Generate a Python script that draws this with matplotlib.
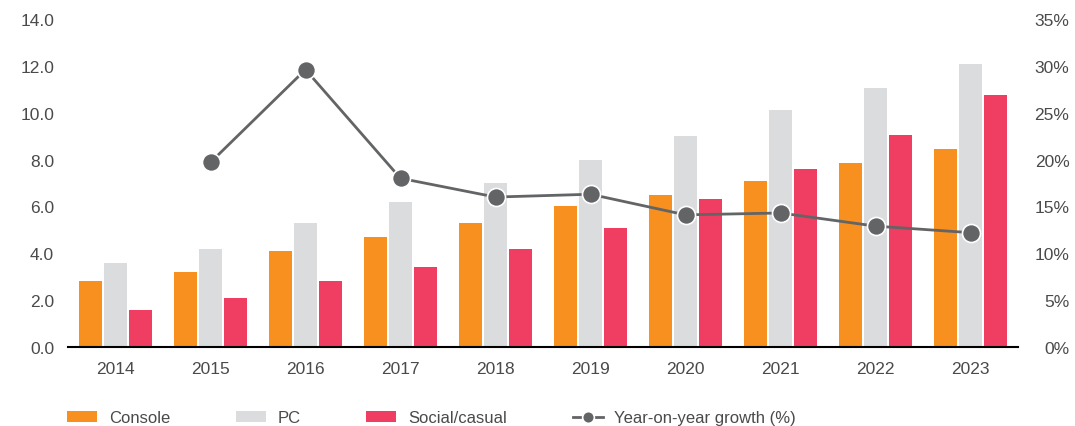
import matplotlib.pyplot as plt
import numpy as np
from matplotlib.ticker import FuncFormatter, MultipleLocator

plt.rcParams['font.family'] = ['Liberation Sans', 'DejaVu Sans']

years = ['2014', '2015', '2016', '2017', '2018', '2019', '2020', '2021', '2022', '2023']
console = [2.8, 3.2, 4.1, 4.7, 5.3, 6.0, 6.5, 7.1, 7.85, 8.45]
pc = [3.6, 4.2, 5.3, 6.2, 7.0, 8.0, 9.0, 10.1, 11.05, 12.1]
social = [1.6, 2.1, 2.8, 3.4, 4.2, 5.1, 6.3, 7.6, 9.05, 10.75]
growth_years = years[1:]
growth = [19.7, 29.6, 18.0, 16.0, 16.3, 14.1, 14.3, 12.9, 12.2]

c_console = '#F7901E'
c_pc = '#DBDCDD'
c_social = '#F03E63'
c_line = '#636466'
c_text = '#4A4A4A'

fig = plt.figure(figsize=(10.75, 4.27), dpi=100)
ax = fig.add_axes([68 / 1075, 79 / 427, 950 / 1075, 328 / 427])

x = np.arange(len(years))
w = 0.242
step = 0.263
ax.bar(x - step, console, w, color=c_console, label='Console', zorder=2)
ax.bar(x, pc, w, color=c_pc, label='PC', zorder=2)
ax.bar(x + step, social, w, color=c_social, label='Social/casual', zorder=2)

ax.set_xlim(-0.5, len(years) - 0.5)
ax.set_ylim(0, 14)
ax.yaxis.set_major_locator(MultipleLocator(2))
ax.yaxis.set_major_formatter(FuncFormatter(lambda v, p: f'{v:.1f}'))
ax.set_xticks(x)
ax.set_xticklabels(years)
for s in ['top', 'right', 'left']:
    ax.spines[s].set_visible(False)
ax.spines['bottom'].set_color('black')
ax.spines['bottom'].set_linewidth(1.5)
ax.spines['bottom'].set_zorder(3)
ax.tick_params(axis='both', length=0, labelsize=12.5, labelcolor=c_text)
ax.tick_params(axis='y', pad=10)
ax.tick_params(axis='x', pad=10)

ax2 = ax.twinx()
ax2.set_ylim(0, 35)
ax2.yaxis.set_major_locator(MultipleLocator(5))
ax2.yaxis.set_major_formatter(FuncFormatter(lambda v, p: f'{v:.0f}%'))
for s in ['top', 'right', 'left', 'bottom']:
    ax2.spines[s].set_visible(False)
ax2.tick_params(axis='y', length=0, labelsize=12.5, labelcolor=c_text, pad=37)
for lbl in ax2.get_yticklabels():
    lbl.set_horizontalalignment('right')

gx = np.arange(1, len(years))
ax2.plot(gx, growth, color=c_line, lw=2, marker='o', markersize=13,
         markerfacecolor=c_line, markeredgecolor='white', markeredgewidth=1.2,
         label='Year-on-year growth (%)', zorder=4)

h1, l1 = ax.get_legend_handles_labels()
h2, l2 = ax2.get_legend_handles_labels()
leg = fig.legend(h1 + h2, l1 + l2, loc='center left', bbox_to_anchor=(67 / 1075, 8 / 427),
                 ncol=4, frameon=False, fontsize=12, labelcolor=c_text,
                 borderpad=0, borderaxespad=0,
                 handlelength=1.8, handleheight=0.66, handletextpad=0.7,
                 columnspacing=3.95, markerscale=0.65)

fig.savefig('out.png', dpi=100)
